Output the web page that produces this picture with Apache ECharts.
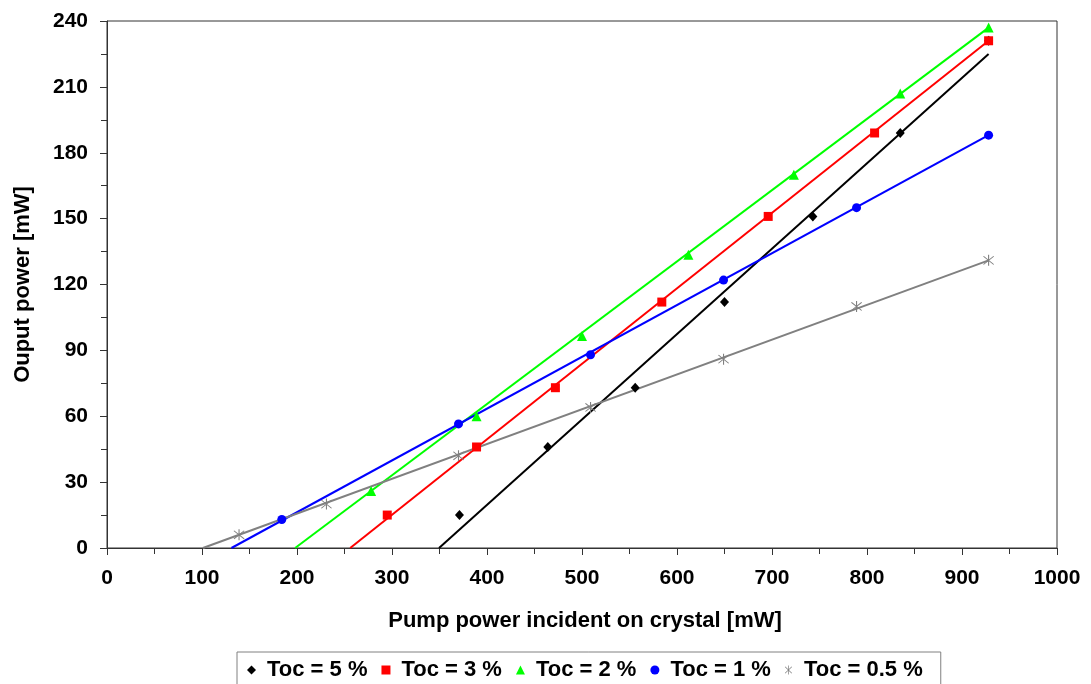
<!DOCTYPE html>
<html>
<head>
<meta charset="utf-8">
<script src="https://cdn.jsdelivr.net/npm/echarts@6/dist/echarts.min.js"></script>
<style>
html,body{margin:0;padding:0;background:#fff;}
#chart{width:1091px;height:684px;}
</style>
</head>
<body>
<div id="chart"></div>
<script>
// ---- data ----
const seriesNames = ['Toc = 5 %', 'Toc = 3 %', 'Toc = 2 %', 'Toc = 1 %', 'Toc = 0.5 %'];

const toc5 = [[371, 15], [464, 46], [556, 73], [650, 112], [743, 151], [835, 189], [928, 231]];
const toc3 = [[295, 15], [389, 46], [472, 73], [584, 112], [696, 151], [808, 189], [928, 231]];
const toc2 = [[278, 26], [389, 60], [500, 96.5], [612, 133.5], [723, 170], [835, 207], [928, 237]];
const toc1 = [[184, 13], [370, 56.5], [509, 88], [649, 122], [789, 155], [928, 188]];
const toc05 = [[139, 6], [231, 20], [370, 42], [509, 64], [649, 86], [789, 110], [928, 131]];

// linear-fit lines (start at threshold, end at last pump power)
const fit5 = [[349.5, 0], [928, 225]];
const fit3 = [[256, 0], [928, 231]];
const fit2 = [[198, 0], [928, 237]];
const fit1 = [[131, 0], [928, 188]];
const fit05 = [[101, 0], [928, 131]];

const xTicks = [0, 100, 200, 300, 400, 500, 600, 700, 800, 900, 1000];
const yTicks = [0, 30, 60, 90, 120, 150, 180, 210, 240];

// ---- styling ----
const colors = ['#000000', '#ff0000', '#00ff00', '#0000ff', '#808080'];
const asterisk = 'path://M9.2,0L10.8,0L10.8,20L9.2,20Z M2,3.1L3.1,2L18,16.9L16.9,18Z M16.9,2L18,3.1L3.1,18L2,16.9Z';
const symbols = ['diamond', 'rect', 'triangle', 'circle', asterisk];
const sizes = [[9, 10], 9, 10, 9, 11];
const pts = [toc5, toc3, toc2, toc1, toc05];
const fits = [fit5, fit3, fit2, fit1, fit05];
const FONT = '"Liberation Sans", Arial, sans-serif';

const series = [];
fits.forEach((f, i) => {
  series.push({
    name: 'fit' + i,
    type: 'line',
    data: f,
    showSymbol: false,
    symbol: 'none',
    silent: true,
    lineStyle: { color: colors[i], width: 2 },
    z: 2
  });
});
pts.forEach((p, i) => {
  series.push({
    name: seriesNames[i],
    type: 'scatter',
    data: p,
    symbol: symbols[i],
    symbolSize: sizes[i],
    itemStyle: { color: colors[i], opacity: 1 },
    z: 5
  });
});

const chart = echarts.init(document.getElementById('chart'), null, { renderer: 'canvas' });
chart.setOption({
  animation: false,
  backgroundColor: '#ffffff',
  grid: {
    left: 107, right: 34, top: 21, bottom: 136,
    show: true, borderColor: '#333', borderWidth: 1, backgroundColor: 'transparent'
  },
  legend: {
    data: seriesNames,
    left: 237,
    top: 652,
    orient: 'horizontal',
    padding: [7, 18, 14, 10],
    itemGap: 14,
    itemWidth: 9,
    itemHeight: 9,
    borderColor: '#808080',
    borderWidth: 1,
    textStyle: {
      fontFamily: FONT, fontWeight: 'bold', fontSize: 22, color: '#000',
      padding: [0, 0, 0, 6]
    }
  },
  xAxis: {
    type: 'value',
    min: xTicks[0],
    max: xTicks[xTicks.length - 1],
    interval: 100,
    name: 'Pump power incident on crystal [mW]',
    nameLocation: 'middle',
    nameGap: 62,
    nameTextStyle: { fontFamily: FONT, fontWeight: 'bold', fontSize: 22, color: '#000', padding: [0, 0, 0, 6] },
    axisLine: { show: true, onZero: false, lineStyle: { color: '#333', width: 1 } },
    axisTick: { show: true, inside: false, length: 7, lineStyle: { color: '#333' } },
    minorTick: { show: true, splitNumber: 2, length: 6, lineStyle: { color: '#333' } },
    splitLine: { show: false },
    axisLabel: {
      margin: 20, fontFamily: FONT, fontWeight: 'bold', fontSize: 21, color: '#000',
      formatter: v => String(v)
    }
  },
  yAxis: {
    type: 'value',
    min: yTicks[0],
    max: yTicks[yTicks.length - 1],
    interval: 30,
    name: 'Ouput power [mW]',
    nameLocation: 'middle',
    nameRotate: 90,
    nameGap: 73,
    nameTextStyle: { fontFamily: FONT, fontWeight: 'bold', fontSize: 22, color: '#000' },
    axisLine: { show: true, onZero: false, lineStyle: { color: '#333', width: 1 } },
    axisTick: { show: true, inside: false, length: 7, lineStyle: { color: '#333' } },
    minorTick: { show: true, splitNumber: 2, length: 6, lineStyle: { color: '#333' } },
    splitLine: { show: false },
    axisLabel: {
      margin: 19, fontFamily: FONT, fontWeight: 'bold', fontSize: 21, color: '#000',
      formatter: v => String(v)
    }
  },
  series: series
});
</script>
</body>
</html>
